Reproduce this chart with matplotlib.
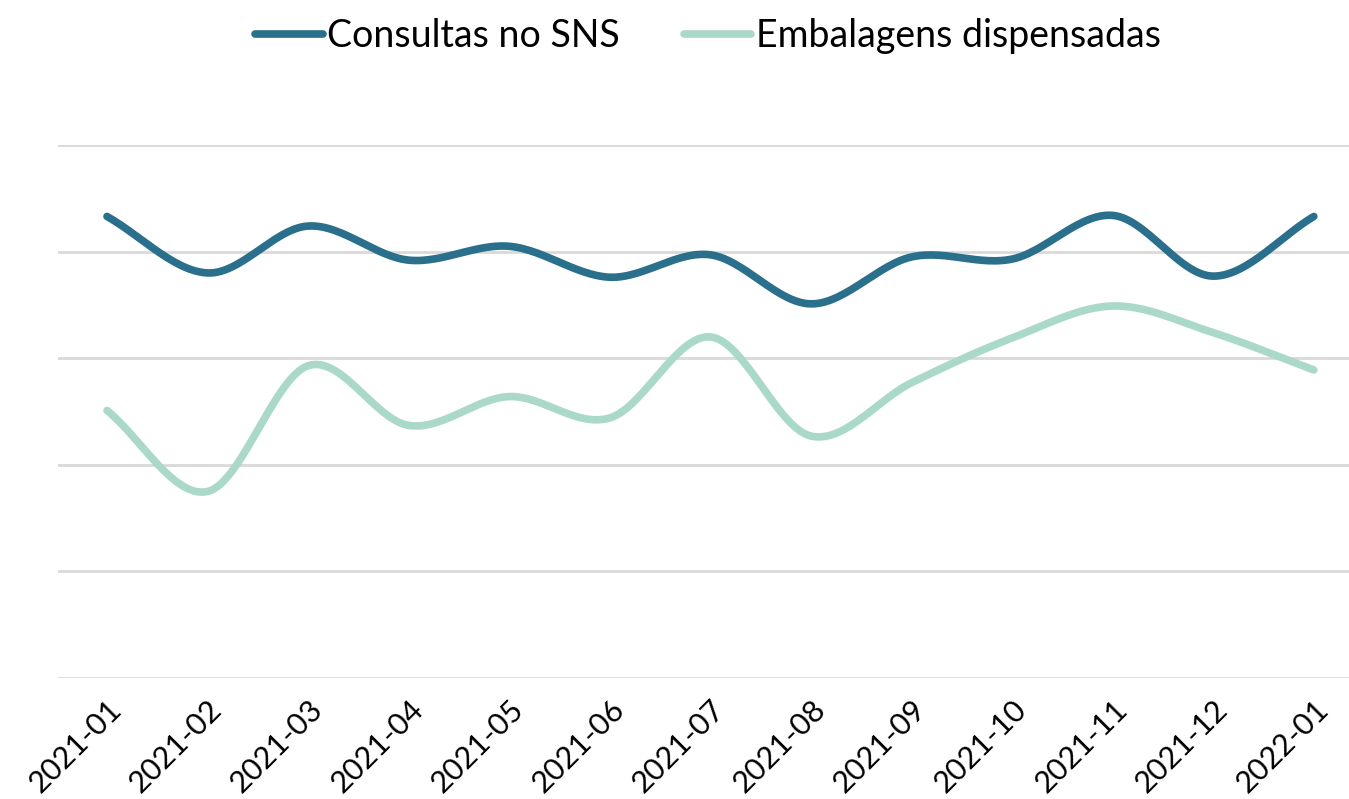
import matplotlib
matplotlib.use('Agg')
import matplotlib.pyplot as plt
import numpy as np

months = ['2021-01', '2021-02', '2021-03', '2021-04', '2021-05', '2021-06', '2021-07',
          '2021-08', '2021-09', '2021-10', '2021-11', '2021-12', '2022-01']
consultas = [4.33, 3.80, 4.24, 3.92, 4.05, 3.76, 3.97, 3.51, 3.95, 3.93, 4.34, 3.77, 4.33]
embalagens = [2.51, 1.75, 2.93, 2.37, 2.64, 2.44, 3.20, 2.27, 2.77, 3.19, 3.49, 3.24, 2.89]


def smooth(y, n=30):
    # catmull-rom through the points, like a spreadsheet "smoothed line"
    y = np.asarray(y, dtype=float)
    x = np.arange(len(y), dtype=float)
    px = np.concatenate([[2 * x[0] - x[1]], x, [2 * x[-1] - x[-2]]])
    py = np.concatenate([[2 * y[0] - y[1]], y, [2 * y[-1] - y[-2]]])
    xs, ys = [], []
    for i in range(1, len(px) - 2):
        t = np.linspace(0, 1, n, endpoint=False)
        for p, out in ((px, xs), (py, ys)):
            p0, p1, p2, p3 = p[i - 1], p[i], p[i + 1], p[i + 2]
            out.append(0.5 * (2 * p1 + (-p0 + p2) * t + (2 * p0 - 5 * p1 + 4 * p2 - p3) * t ** 2
                              + (-p0 + 3 * p1 - 3 * p2 + p3) * t ** 3))
    xs.append([x[-1]])
    ys.append([y[-1]])
    return np.concatenate(xs), np.concatenate(ys)


plt.rcParams['font.family'] = ['Lato', 'DejaVu Sans']

fig = plt.figure(figsize=(13.49, 7.99), dpi=100)
ax = fig.add_axes([0.043, 0.1514, 0.957, 0.6671])

dark = '#2a6f8b'
light = '#abd9c9'
x1, y1 = smooth(consultas)
x2, y2 = smooth(embalagens)
ax.plot(x1, y1, color=dark, lw=5.5, solid_capstyle='round', label='Consultas no SNS', zorder=3)
ax.plot(x2, y2, color=light, lw=5.5, solid_capstyle='round', label='Embalagens dispensadas', zorder=3)

ax.set_xlim(-0.487, 12.35)
ax.set_ylim(0, 5)
ax.set_yticks(np.arange(0, 6))
ax.set_yticklabels([])
ax.yaxis.grid(True, color='#d9d9d9', lw=2)
ax.tick_params(axis='both', length=0)
ax.set_xticks(range(len(months)))
ax.set_xticklabels(months, rotation=45, ha='right', va='top', rotation_mode='anchor', fontsize=22)
ax.tick_params(axis='x', pad=12)
for s in ax.spines.values():
    s.set_visible(False)

leg = fig.legend(loc='upper center', bbox_to_anchor=(0.525, 1.02), ncol=2, frameon=False,
                 fontsize=27, handlelength=1.8, handletextpad=0.12, columnspacing=1.7)

fig.savefig('out.png', dpi=100)
